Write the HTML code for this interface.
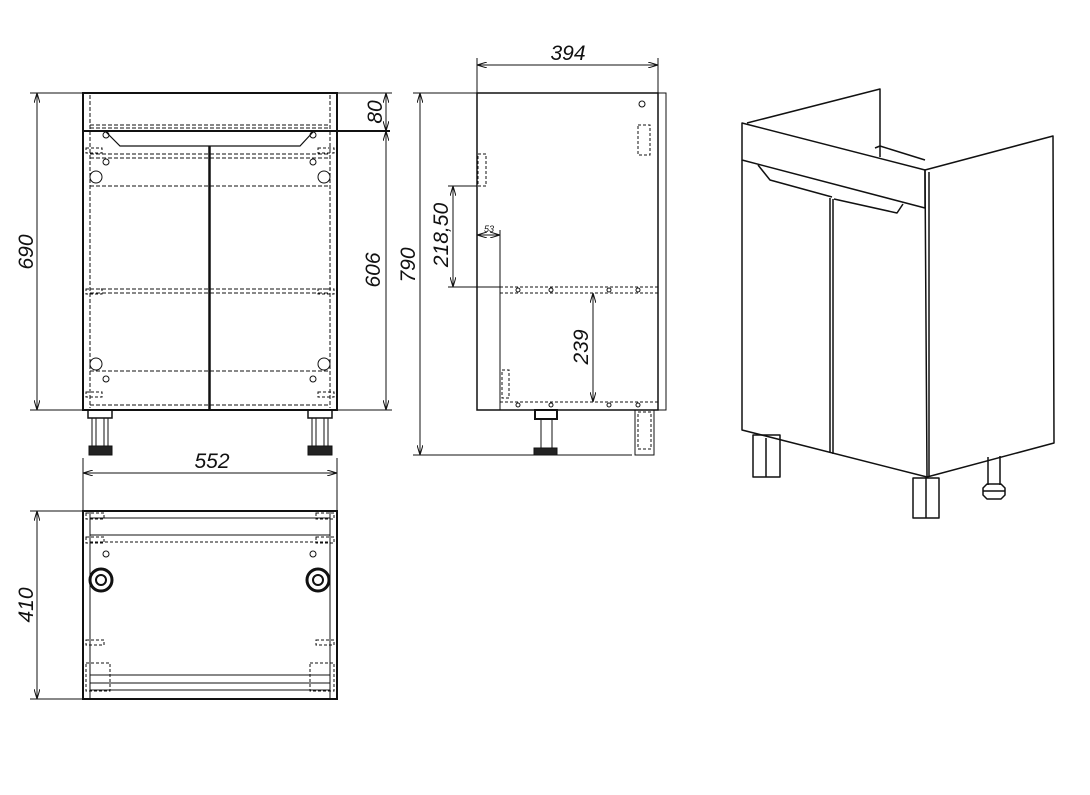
<!DOCTYPE html>
<html><head><meta charset="utf-8"><style>
html,body{margin:0;padding:0;background:#fff;}
svg{display:block}
text{font-family:"Liberation Sans",sans-serif;font-style:italic;font-size:21px;fill:#111}
</style></head><body>
<svg width="1090" height="795" viewBox="0 0 1090 795" xmlns="http://www.w3.org/2000/svg">
<defs>
<marker id="a" markerWidth="10" markerHeight="6" refX="10" refY="3" orient="auto-start-reverse" markerUnits="userSpaceOnUse"><path d="M0,0 L10,3 L0,6" fill="none" stroke="#111" stroke-width="1"/></marker>
</defs>
<g stroke="#111" fill="none" stroke-width="1">
<!-- FRONT VIEW -->
<rect x="83" y="93" width="254" height="317" stroke-width="2"/>
<line x1="83" y1="131" x2="390" y2="131" stroke-width="2"/>
<line x1="209.5" y1="146" x2="209.5" y2="410" stroke-width="2.5"/>
<path d="M106,132 L120,146 L300,146 L313,132" stroke-width="1.2"/>
<g stroke-dasharray="4,2">
<line x1="90" y1="95" x2="90" y2="408"/><line x1="330" y1="95" x2="330" y2="408"/>
<line x1="90" y1="125" x2="330" y2="125"/><line x1="90" y1="128" x2="330" y2="128"/>
<line x1="90" y1="154" x2="330" y2="154"/><line x1="90" y1="158" x2="330" y2="158"/>
<line x1="90" y1="186" x2="330" y2="186"/>
<line x1="90" y1="289" x2="330" y2="289"/><line x1="90" y1="293" x2="330" y2="293"/>
<line x1="90" y1="371" x2="330" y2="371"/>
<line x1="90" y1="405" x2="330" y2="405"/>
</g>
<circle cx="96" cy="177" r="6"/><circle cx="324" cy="177" r="6"/>
<circle cx="96" cy="364" r="6"/><circle cx="324" cy="364" r="6"/>
<circle cx="106" cy="135" r="3"/><circle cx="313" cy="135" r="3"/>
<circle cx="106" cy="162" r="3"/><circle cx="313" cy="162" r="3"/>
<circle cx="106" cy="379" r="3"/><circle cx="313" cy="379" r="3"/>
<g stroke-dasharray="3,2"><rect x="86" y="148" width="16" height="5"/><rect x="318" y="148" width="16" height="5"/>
<rect x="86" y="289" width="16" height="5"/><rect x="318" y="289" width="16" height="5"/>
<rect x="86" y="392" width="16" height="5"/><rect x="318" y="392" width="16" height="5"/></g>
<!-- legs front -->
<rect x="88" y="410" width="24" height="8" stroke-width="1.5"/>
<rect x="92" y="418" width="16" height="28"/><line x1="96" y1="418" x2="96" y2="446"/><line x1="104" y1="418" x2="104" y2="446"/>
<rect x="89" y="446" width="23" height="9" fill="#222"/>
<rect x="308" y="410" width="24" height="8" stroke-width="1.5"/>
<rect x="312" y="418" width="16" height="28"/><line x1="316" y1="418" x2="316" y2="446"/><line x1="324" y1="418" x2="324" y2="446"/>
<rect x="308" y="446" width="24" height="9" fill="#222"/>
<!-- dims front -->
<line x1="30" y1="93" x2="83" y2="93"/><line x1="30" y1="410" x2="83" y2="410"/>
<line x1="37" y1="93" x2="37" y2="410" marker-start="url(#a)" marker-end="url(#a)"/>
<line x1="337" y1="93" x2="392" y2="93"/><line x1="337" y1="410" x2="392" y2="410"/>
<line x1="386" y1="93" x2="386" y2="131" marker-start="url(#a)" marker-end="url(#a)"/>
<line x1="386" y1="131" x2="386" y2="410" marker-start="url(#a)" marker-end="url(#a)"/>
<line x1="83" y1="458" x2="83" y2="511"/><line x1="337" y1="458" x2="337" y2="511"/>
<line x1="83" y1="473" x2="337" y2="473" marker-start="url(#a)" marker-end="url(#a)"/>
<!-- BOTTOM VIEW -->
<rect x="83" y="511" width="254" height="188" stroke-width="2"/>
<line x1="90" y1="511" x2="90" y2="699"/><line x1="330" y1="511" x2="330" y2="699"/>
<line x1="90" y1="518" x2="330" y2="518"/><line x1="90" y1="535" x2="330" y2="535"/>
<line x1="90" y1="675" x2="330" y2="675"/><line x1="90" y1="683" x2="330" y2="683"/><line x1="90" y1="690" x2="330" y2="690"/>
<g stroke-dasharray="3,2"><line x1="90" y1="542" x2="330" y2="542"/>
<rect x="86" y="513" width="18" height="6"/><rect x="316" y="513" width="18" height="6"/>
<rect x="86" y="537" width="18" height="6"/><rect x="316" y="537" width="18" height="6"/>
<rect x="86" y="640" width="18" height="5"/><rect x="316" y="640" width="18" height="5"/>
<rect x="86" y="663" width="24" height="28"/><rect x="310" y="663" width="24" height="28"/></g>
<circle cx="101" cy="580" r="11" stroke-width="3"/><circle cx="101" cy="580" r="5" stroke-width="2"/>
<circle cx="318" cy="580" r="11" stroke-width="3"/><circle cx="318" cy="580" r="5" stroke-width="2"/>
<circle cx="106" cy="554" r="3"/><circle cx="313" cy="554" r="3"/>
<line x1="30" y1="511" x2="83" y2="511"/><line x1="30" y1="699" x2="83" y2="699"/>
<line x1="37" y1="511" x2="37" y2="699" marker-start="url(#a)" marker-end="url(#a)"/>
<!-- SIDE VIEW -->
<rect x="477" y="93" width="181" height="317" stroke-width="1.5"/>
<rect x="658" y="93" width="8" height="317"/>
<line x1="500" y1="230" x2="500" y2="410"/>
<g stroke-dasharray="3,2"><line x1="500" y1="287" x2="658" y2="287"/><line x1="500" y1="293" x2="658" y2="293"/>
<line x1="500" y1="402" x2="658" y2="402"/>
<rect x="478" y="154" width="8" height="32"/><rect x="502" y="370" width="7" height="28"/>
<rect x="638" y="125" width="12" height="30"/></g>
<circle cx="642" cy="104" r="3"/>
<circle cx="518" cy="290" r="2"/><circle cx="551" cy="290" r="2"/><circle cx="609" cy="290" r="2"/><circle cx="638" cy="290" r="2"/>
<circle cx="518" cy="405" r="2"/><circle cx="551" cy="405" r="2"/><circle cx="609" cy="405" r="2"/><circle cx="638" cy="405" r="2"/>
<rect x="535" y="410" width="22" height="9" stroke-width="2"/>
<line x1="541" y1="419" x2="541" y2="448"/><line x1="552" y1="419" x2="552" y2="448"/>
<rect x="534" y="448" width="23" height="7" fill="#222"/>
<rect x="635" y="410" width="19" height="45"/>
<rect x="638" y="412" width="13" height="37" stroke-dasharray="3,2"/>
<line x1="477" y1="58" x2="477" y2="93"/><line x1="658" y1="58" x2="658" y2="93"/>
<line x1="477" y1="65" x2="658" y2="65" marker-start="url(#a)" marker-end="url(#a)"/>
<line x1="413" y1="93" x2="477" y2="93"/><line x1="413" y1="455" x2="632" y2="455"/>
<line x1="420" y1="93" x2="420" y2="455" marker-start="url(#a)" marker-end="url(#a)"/>
<line x1="448" y1="186" x2="477" y2="186"/><line x1="448" y1="287" x2="500" y2="287"/>
<line x1="453" y1="186" x2="453" y2="287" marker-start="url(#a)" marker-end="url(#a)"/>
<line x1="477" y1="235" x2="500" y2="235" marker-start="url(#a)" marker-end="url(#a)"/>
<line x1="593" y1="293" x2="593" y2="402" marker-start="url(#a)" marker-end="url(#a)"/>
<!-- ISO -->
<g stroke-width="1.5" stroke-linejoin="round">
<path d="M747,123 L880,89 L880,157"/>
<path d="M742,123 L925,170 L925,208 L742,160 Z"/>
<path d="M925,170 L1053,136 L1054,443 L927,477 Z"/>
<line x1="929" y1="172" x2="929" y2="476"/>
<path d="M742,160 L742,430 L927,477"/>
<line x1="830" y1="198" x2="830" y2="453"/><line x1="833" y1="199" x2="833" y2="454"/>
<path d="M758,165 L770,180 L832,197"/><path d="M834,199 L897,213 L903,204"/>
<path d="M875,148 L880,146 L925,160"/>
<rect x="753" y="435" width="27" height="42"/><line x1="766" y1="438" x2="766" y2="477"/>
<rect x="913" y="478" width="26" height="40"/><line x1="926" y1="478" x2="926" y2="518"/>
<path d="M988,457 L988,485 M1000,456 L1000,485"/>
<path d="M983,488 L987,484 L1001,484 L1005,488 L1005,495 L1001,499 L987,499 L983,495 Z"/>
<line x1="983" y1="491" x2="1005" y2="491"/>
</g>
</g>
<text transform="translate(33,252) rotate(-90)" text-anchor="middle">690</text>
<text transform="translate(382,112) rotate(-90)" text-anchor="middle">80</text>
<text transform="translate(380,270) rotate(-90)" text-anchor="middle">606</text>
<text x="212" y="468" text-anchor="middle">552</text>
<text transform="translate(33,605) rotate(-90)" text-anchor="middle">410</text>
<text x="568" y="60" text-anchor="middle">394</text>
<text transform="translate(415,265) rotate(-90)" text-anchor="middle">790</text>
<text transform="translate(448,235) rotate(-90)" text-anchor="middle">218,50</text>
<text x="489" y="232" text-anchor="middle" style="font-size:9px">53</text>
<text transform="translate(588,347) rotate(-90)" text-anchor="middle">239</text>
</svg>
</body></html>
